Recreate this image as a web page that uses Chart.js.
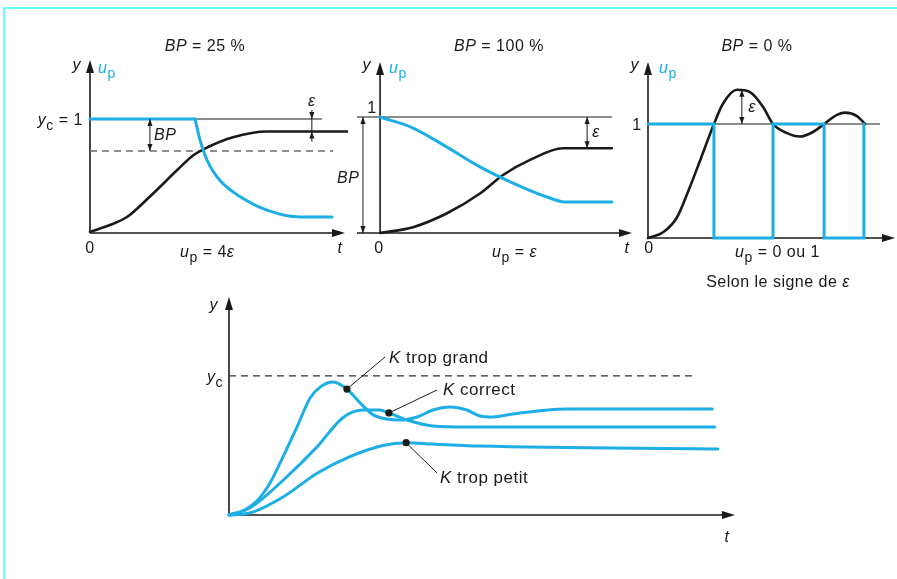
<!DOCTYPE html>
<html>
<head>
<meta charset="utf-8">
<script src="https://cdn.jsdelivr.net/npm/chart.js@4/dist/chart.umd.min.js"></script>
<style>
  html, body { margin: 0; padding: 0; background: #fff; }
  #page { position: relative; width: 897px; height: 579px; overflow: hidden; }
  #frame { position: absolute; left: 3px; top: 7px; width: 920px; height: 600px;
           border-top: 2px solid #6ff; border-left: 2px solid #6ff; }
  canvas { position: absolute; left: 0; top: 0; }
</style>
</head>
<body>
<div id="page">
  <div id="frame"></div>
  <canvas id="bp25" width="897" height="579"></canvas>
  <canvas id="bp100" width="897" height="579"></canvas>
  <canvas id="bp0" width="897" height="579"></canvas>
  <canvas id="gain" width="897" height="579"></canvas>
</div>
<script>
// --- BP = 25 % : sortie y et commande up
const bp25T   = [0, 0.78, 1.45, 2.35, 3.41, 4.04, 4.59, 5.61, 6.94, 7.96, 8.63, 10.08];
const bp25Y   = [0.01, 0.07, 0.14, 0.32, 0.55, 0.68, 0.75, 0.84, 0.89, 0.89, 0.89, 0.89];
const bp25HoldT = [0, 4.12];
const bp25Hold  = [1, 1];
const bp25UpT = [4.12, 4.31, 4.59, 5.1, 5.88, 6.94, 8.24, 9.49];
const bp25Up  = [1, 0.82, 0.64, 0.46, 0.32, 0.2, 0.14, 0.14];
const bp25Band = 0.72;

// --- BP = 100 %
const bp100T  = [0, 1.33, 2.7, 4.03, 4.96, 6.05, 7.38, 9.35];
const bp100Y  = [0, 0.05, 0.17, 0.34, 0.5, 0.63, 0.73, 0.73];
const bp100UpT = [0, 1.33, 2.7, 4.03, 5.36, 6.73, 7.46, 9.35];
const bp100Up  = [1, 0.905, 0.74, 0.57, 0.43, 0.31, 0.267, 0.267];

// --- BP = 0 % (tout ou rien)
const bp0T  = [0, 0.61, 1.17, 1.7, 2.11, 2.67, 3.04, 3.6, 4.13, 4.66, 5.06, 5.63, 6.15, 6.68, 7.13, 7.65, 7.98, 8.46, 8.79];
const bp0Y  = [0, 0.05, 0.18, 0.45, 0.68, 1, 1.18, 1.3, 1.28, 1.15, 1, 0.92, 0.89, 0.93, 1, 1.08, 1.1, 1.07, 1];
const bp0UpT = [0, 2.67, 5.06, 7.13, 8.74];
const bp0Up  = [1, 0, 1, 0, 1];

// --- influence du gain K
const grandT = [0, 0.22, 0.55, 0.81, 1.07, 1.34, 1.6, 1.8, 2.06, 2.33, 2.59, 2.85, 3.12, 3.38, 3.72, 4.03, 4.37, 4.7, 4.96, 5.22, 5.61, 6.68, 9.55];
const grandY = [0, 0.02, 0.1, 0.23, 0.42, 0.63, 0.84, 0.92, 0.957, 0.906, 0.806, 0.72, 0.69, 0.683, 0.705, 0.755, 0.777, 0.755, 0.712, 0.705, 0.727, 0.763, 0.763];
const correctT = [0, 0.41, 1.07, 1.74, 2.25, 2.65, 2.98, 3.16, 3.52, 4.03, 4.7, 6.5, 9.6];
const correctY = [0, 0.05, 0.25, 0.49, 0.7, 0.755, 0.755, 0.734, 0.683, 0.64, 0.633, 0.633, 0.633];
const petitT = [0, 0.41, 1.07, 1.74, 2.39, 3.04, 3.5, 4.03, 4.96, 9.66];
const petitY = [0, 0.014, 0.13, 0.3, 0.42, 0.5, 0.52, 0.51, 0.496, 0.475];
const kDotT = [2.33, 3.16, 3.5];
const kDotY = [0.906, 0.734, 0.52];
const kLabels = ['trop grand', 'correct', 'trop petit'];

const W = 897, H = 579;
const INK = '#1a1a18';
const BLUE = '#1daee6';
const FONT = "'Liberation Sans', Arial, Helvetica, sans-serif";

const pts = (ts, ys) => ts.map((t, i) => ({ x: t, y: ys[i] }));

function curve(ts, ys, color, width, extra) {
  return Object.assign({
    data: pts(ts, ys),
    borderColor: color,
    borderWidth: width,
    cubicInterpolationMode: 'monotone',
    pointRadius: 0,
    clip: false
  }, extra || {});
}

// texte composé : morceaux italiques, indices, couleurs
function txt(ctx, x, y, parts, align, size) {
  size = size || 16;
  ctx.save();
  ctx.textBaseline = 'alphabetic';
  ctx.textAlign = 'left';
  ctx.letterSpacing = '0.5px';
  const runs = parts.map(p => (typeof p === 'string' ? { t: p } : p));
  const fontOf = r => (r.i ? 'italic ' : '') + (r.sub ? Math.round(size * 0.85) : size) + 'px ' + FONT;
  let w = 0;
  runs.forEach(r => { ctx.font = fontOf(r); r.w = ctx.measureText(r.t).width; w += r.w; });
  let cx = align === 'center' ? x - w / 2 : align === 'right' ? x - w : x;
  runs.forEach(r => {
    ctx.font = fontOf(r);
    ctx.fillStyle = r.c || INK;
    ctx.fillText(r.t, cx, y + (r.sub ? 5 : 0));
    cx += r.w;
  });
  ctx.restore();
}

function head(ctx, x, y, dx, dy, len, half) {
  ctx.beginPath();
  ctx.moveTo(x, y);
  ctx.lineTo(x - dx * len - dy * half, y - dy * len + dx * half);
  ctx.lineTo(x - dx * len + dy * half, y - dy * len - dx * half);
  ctx.closePath();
  ctx.fill();
}

function seg(ctx, x1, y1, x2, y2, width, color, dash) {
  ctx.save();
  ctx.strokeStyle = color || INK;
  ctx.lineWidth = width;
  ctx.setLineDash(dash || []);
  ctx.beginPath();
  ctx.moveTo(x1, y1);
  ctx.lineTo(x2, y2);
  ctx.stroke();
  ctx.restore();
}

// cote verticale avec flèches aux deux bouts
function dim(ctx, x, yA, yB) {
  seg(ctx, x, yA, x, yB, 1);
  ctx.fillStyle = INK;
  const s = yB > yA ? 1 : -1;
  head(ctx, x, yA, 0, -s, 7, 2.6);
  head(ctx, x, yB, 0, s, 7, 2.6);
}

function axes(chart) {
  const { ctx, chartArea: a, scales: { x, y } } = chart;
  const x0 = x.getPixelForValue(0), y0 = y.getPixelForValue(0);
  ctx.save();
  ctx.fillStyle = INK;
  seg(ctx, a.left, y0, a.right - 8, y0, 1.6);
  head(ctx, a.right, y0, 1, 0, 13, 4);
  seg(ctx, x0, y0, x0, a.top + 8, 1.6);
  head(ctx, x0, a.top, 0, -1, 13, 4);
  ctx.restore();
}

function panel(id, box, xr, yr, datasets, under, over) {
  return new Chart(document.getElementById(id), {
    type: 'line',
    data: { datasets },
    options: {
      responsive: false,
      animation: false,
      layout: { padding: { left: box[0], top: box[1], right: W - box[2], bottom: H - box[3] } },
      plugins: { legend: { display: false }, tooltip: { enabled: false } },
      scales: {
        x: { type: 'linear', display: false, min: xr[0], max: xr[1] },
        y: { type: 'linear', display: false, min: yr[0], max: yr[1] }
      },
      elements: { line: { borderCapStyle: 'round', borderJoinStyle: 'round' } }
    },
    plugins: [{
      id: 'deco',
      beforeDatasetsDraw(c) { axes(c); under(c, c.ctx, v => c.scales.x.getPixelForValue(v), v => c.scales.y.getPixelForValue(v)); },
      afterDatasetsDraw(c) { over(c, c.ctx, v => c.scales.x.getPixelForValue(v), v => c.scales.y.getPixelForValue(v)); }
    }]
  });
}

const upLabel = (ctx, x, y) => txt(ctx, x, y, [{ t: 'u', i: true, c: BLUE }, { t: 'p', sub: true, c: BLUE }]);

// BP = 25 %
panel('bp25', [90, 60, 345, 233], [0, 10], [0, 1.518], [
  curve(bp25HoldT, bp25Hold, BLUE, 3, { cubicInterpolationMode: 'default', tension: 0 }),
  curve(bp25UpT, bp25Up, BLUE, 3),
  curve(bp25T, bp25Y, INK, 2.6)
], (c, ctx, X, Y) => {
  seg(ctx, X(0), Y(1), X(9.1), Y(1), 1.1);
  seg(ctx, X(0), Y(bp25Band), X(9.53), Y(bp25Band), 1.4, '#6b6b6b', [7, 5]);
}, (c, ctx, X, Y) => {
  dim(ctx, X(2.35), Y(1), Y(bp25Band));
  // écart ε entre consigne et palier
  const xe = X(8.7), yTop = Y(1), yLow = Y(bp25Y[bp25Y.length - 1]);
  seg(ctx, xe, yTop - 9, xe, yLow + 10, 1);
  ctx.fillStyle = INK;
  head(ctx, xe, yTop, 0, 1, 7, 2.6);
  head(ctx, xe, yLow, 0, -1, 7, 2.6);
  txt(ctx, 205, 51, [{ t: 'BP', i: true }, ' = 25 %'], 'center');
  txt(ctx, 81, 70, [{ t: 'y', i: true }], 'right');
  upLabel(ctx, 98, 73);
  txt(ctx, 83, 125, [{ t: 'y', i: true }, { t: 'c', sub: true }, ' = 1'], 'right');
  txt(ctx, 154, 140, [{ t: 'BP', i: true }]);
  txt(ctx, xe, 106, [{ t: 'ε', i: true }], 'center');
  txt(ctx, 90, 253, ['0'], 'center');
  txt(ctx, 340, 253, [{ t: 't', i: true }], 'center');
  txt(ctx, 180, 257, [{ t: 'u', i: true }, { t: 'p', sub: true }, ' = 4', { t: 'ε', i: true }]);
});

// BP = 100 %
panel('bp100', [357, 62, 632, 233], [-0.93, 10.16], [0, 1.474], [
  curve(bp100UpT, bp100Up, BLUE, 3),
  curve(bp100T, bp100Y, INK, 2.6)
], (c, ctx, X, Y) => {
  seg(ctx, c.chartArea.left, Y(1), X(9.35), Y(1), 1.1);
}, (c, ctx, X, Y) => {
  dim(ctx, X(-0.69), Y(1), Y(0));
  dim(ctx, X(8.35), Y(1), Y(bp100Y[bp100Y.length - 1]));
  txt(ctx, 499, 51, [{ t: 'BP', i: true }, ' = 100 %'], 'center');
  txt(ctx, 371, 70, [{ t: 'y', i: true }], 'right');
  upLabel(ctx, 389, 73);
  txt(ctx, 372, 113, ['1'], 'center');
  txt(ctx, 337, 183, [{ t: 'BP', i: true }]);
  txt(ctx, 596, 137, [{ t: 'ε', i: true }], 'center');
  txt(ctx, 379, 253, ['0'], 'center');
  txt(ctx, 627, 253, [{ t: 't', i: true }], 'center');
  txt(ctx, 492, 257, [{ t: 'u', i: true }, { t: 'p', sub: true }, ' = ', { t: 'ε', i: true }]);
});

// BP = 0 %
panel('bp0', [648, 62, 895, 238], [0, 10], [0, 1.544], [
  curve(bp0UpT, bp0Up, BLUE, 3, { stepped: 'before', cubicInterpolationMode: 'default', borderJoinStyle: 'miter' }),
  curve(bp0T, bp0Y, INK, 2.6)
], (c, ctx, X, Y) => {
  seg(ctx, X(0), Y(1), X(9.39), Y(1), 1.1);
}, (c, ctx, X, Y) => {
  dim(ctx, X(3.8), Y(1.3), Y(1));
  txt(ctx, 757, 51, [{ t: 'BP', i: true }, ' = 0 %'], 'center');
  txt(ctx, 639, 70, [{ t: 'y', i: true }], 'right');
  upLabel(ctx, 659, 73);
  txt(ctx, 637, 130, ['1'], 'center');
  txt(ctx, 752, 112, [{ t: 'ε', i: true }], 'center');
  txt(ctx, 649, 253, ['0'], 'center');
  txt(ctx, 735, 257, [{ t: 'u', i: true }, { t: 'p', sub: true }, ' = 0 ou 1']);
  txt(ctx, 778, 287, ['Selon le signe de ', { t: 'ε', i: true }], 'center');
});

// réglage du gain K
const labelAt = [[389, 363, 385, 357], [443, 395, 437, 390], [440, 483, 437, 473]];
panel('gain', [229, 297, 735, 515], [0, 10], [0, 1.568], [
  { data: pts(kDotT, kDotY), showLine: false, pointRadius: 3.6, pointBackgroundColor: INK, pointBorderWidth: 0, clip: false, order: -1 },
  curve(grandT, grandY, BLUE, 3),
  curve(correctT, correctY, BLUE, 3),
  curve(petitT, petitY, BLUE, 3)
], (c, ctx, X, Y) => {
  seg(ctx, X(0), Y(1), X(9.17), Y(1), 1.2, '#333', [7, 5]);
}, (c, ctx, X, Y) => {
  kLabels.forEach((lab, i) => {
    const [tx, ty, lx, ly] = labelAt[i];
    seg(ctx, X(kDotT[i]), Y(kDotY[i]), lx, ly, 1);
    txt(ctx, tx, ty, [{ t: 'K', i: true }, ' ' + lab], 'left', 17);
  });
  txt(ctx, 218, 310, [{ t: 'y', i: true }], 'right');
  txt(ctx, 223, 382, [{ t: 'y', i: true }, { t: 'c', sub: true }], 'right');
  txt(ctx, 727, 542, [{ t: 't', i: true }], 'center');
});
</script>
</body>
</html>
